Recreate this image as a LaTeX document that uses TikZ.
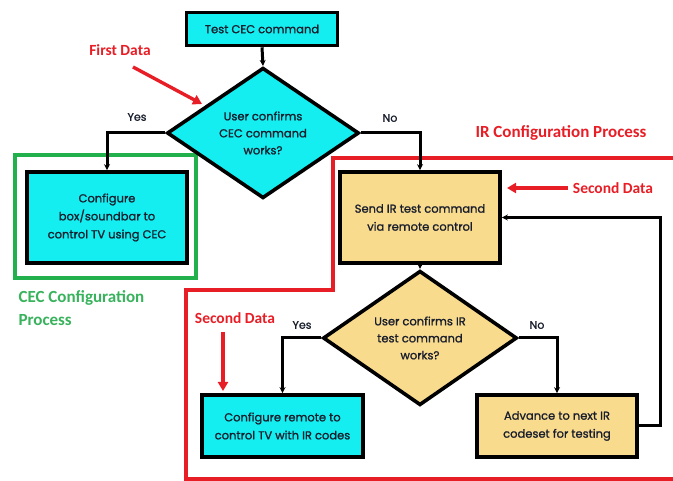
\documentclass[tikz,border=0pt]{standalone}
\usepackage{fontspec}
\setmainfont{Poppins}
\newfontfamily\boxfont{Poppins}[FakeBold=1.2]
\newfontfamily\labfont{Carlito}
\usetikzlibrary{shapes.geometric,arrows.meta}
\definecolor{cyanfill}{RGB}{20,238,240}
\definecolor{tanfill}{RGB}{249,219,142}
\definecolor{redline}{RGB}{232,30,38}
\definecolor{greenline}{RGB}{34,176,76}
\definecolor{greentext}{RGB}{56,178,92}
\definecolor{inktext}{RGB}{25,30,45}
\tikzset{
  procbox/.style={draw=black, line width=3.6pt, inner sep=2pt, align=center,
    font=\boxfont\fontsize{11.5}{18}\selectfont, text=inktext},
  decbox/.style={diamond, draw=black, line width=3.6pt, inner sep=0pt, align=center,
    font=\boxfont\fontsize{11.5}{17}\selectfont, text=inktext},
  flow/.style={draw=black, line width=3pt, -{Stealth[length=6pt,width=6pt]}},
  yesno/.style={font=\boxfont\fontsize{11}{12}\selectfont, text=inktext},
  redlab/.style={font=\labfont\bfseries\fontsize{15.5}{17}\selectfont, text=redline},
  redarrow/.style={draw=redline, line width=3.4pt, -{Triangle[length=9pt,width=10pt]}},
}
\begin{document}
\begin{tikzpicture}[x=1pt,y=-1pt]
\useasboundingbox (0,0) rectangle (673,481);
\clip (0,0) rectangle (673,481);
% red IR region outline
\draw[redline, line width=3.4pt] (690,158) -- (333,158) -- (333,290) -- (186,290) -- (186,479) -- (690,479);
% green CEC region
\draw[greenline, line width=4.5pt] (15,155) rectangle (196,278);

\node[procbox, fill=cyanfill, minimum width=151pt, minimum height=33pt] (test) at (262,29) {Test CEC command};
\node[decbox, fill=cyanfill, minimum width=192pt, minimum height=124pt] (d1) at (263,133)
  {User confirms\\CEC command\\works?};
\node[procbox, fill=cyanfill, minimum width=160pt, minimum height=91pt] (cec) at (107,217.5)
  {Configure\\box/soundbar to\\control TV using CEC};
\node[procbox, fill=tanfill, minimum width=160pt, minimum height=91pt] (send) at (420,217.5)
  {Send IR test command\\via remote control};
\node[decbox, fill=tanfill, minimum width=194pt, minimum height=104pt] (d2) at (420,338)
  {User confirms IR\\test command\\works?};
\node[procbox, fill=cyanfill, minimum width=161pt, minimum height=62pt] (remote) at (282.5,426)
  {Configure remote to\\control TV with IR codes};
\node[procbox, fill=tanfill, minimum width=160pt, minimum height=62pt] (adv) at (557,426)
  {Advance to next IR\\codeset for testing};

\coordinate (fb1) at (660,426);
\coordinate (fb2) at (660,217.5);

\draw[flow] (test.south) -- (d1.north);
\draw[flow] (d1.west) -| (cec.north);
\draw[flow] (d1.east) -| (send.north);
\draw[flow] (send.south) -- (d2.north);
\draw[flow] (d2.west) -| (remote.north);
\draw[flow] (d2.east) -| (adv.north);
\draw[flow] (adv.east) -- (fb1) -- (fb2) -- (send.east);

\node[yesno] (y1) at (137,117) {Yes};
\node[yesno] (n1) at (390,118) {No};
\node[yesno] (y2) at (302,325) {Yes};
\node[yesno] (n2) at (537,325) {No};

\node[redlab] (first) at (120,50) {First Data};
\coordinate (fa1) at (133,67);
\coordinate (fa2) at (202,104);
\draw[redarrow] (fa1) -- (fa2);

\node[redlab, font=\labfont\bfseries\fontsize{17}{19}\selectfont] (irp) at (561,133) {IR Configuration Process};

\node[redlab] (sd1) at (613,188) {Second Data};
\coordinate (sa1) at (568,188);
\coordinate (sa2) at (507,188);
\draw[redarrow] (sa1) -- (sa2);

\node[redlab] (sd2) at (235,318) {Second Data};
\coordinate (sb1) at (223,332);
\coordinate (sb2) at (223,391);
\draw[redarrow] (sb1) -- (sb2);

\node[anchor=west, align=left, text=greentext, font=\labfont\bfseries\fontsize{17}{23}\selectfont] (cecp) at (15,308)
  {CEC Configuration\\Process};
\end{tikzpicture}
\end{document}
